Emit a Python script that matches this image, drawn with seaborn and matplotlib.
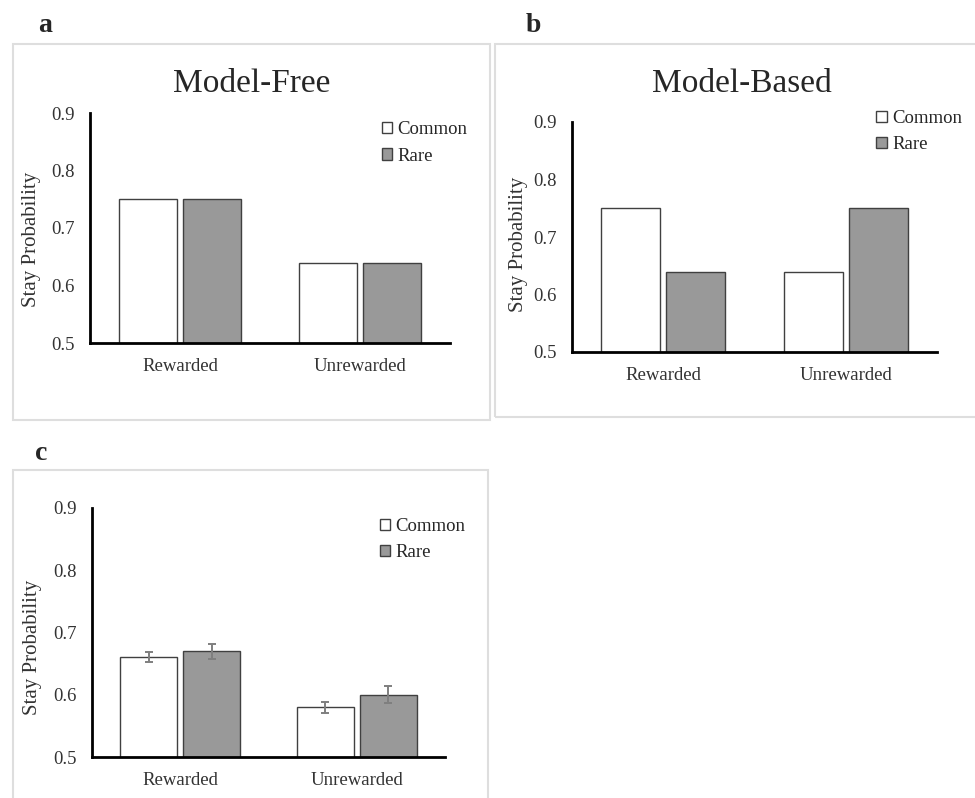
import matplotlib
matplotlib.use("Agg")
import matplotlib.pyplot as plt
from matplotlib.patches import Rectangle, Patch
import seaborn as sns
import pandas as pd

# values
conditions = ["Rewarded", "Unrewarded"]
transitions = ["Common", "Rare"]
mf_common = [0.75, 0.64]
mf_rare = [0.75, 0.64]
mb_common = [0.75, 0.64]
mb_rare = [0.64, 0.75]
data_common = [0.66, 0.58]
data_rare = [0.67, 0.60]
data_common_err = [0.008, 0.009]
data_rare_err = [0.012, 0.014]
yticks = [0.5, 0.6, 0.7, 0.8, 0.9]

W, H = 975, 798
sns.set_style("white")
plt.rcParams['font.family'] = ['Liberation Serif', 'DejaVu Serif']

fig = plt.figure(figsize=(W / 100, H / 100), dpi=100)


def box(x0, y0, x1, y1):
    # pixel coords (top-left origin) -> figure fraction
    return [x0 / W, 1 - y1 / H, (x1 - x0) / W, (y1 - y0) / H]


def make_df(common, rare):
    return pd.DataFrame({
        "condition": conditions * 2,
        "transition": ["Common"] * 2 + ["Rare"] * 2,
        "stay": common + rare,
    })


palette = {"Common": "white", "Rare": "#999999"}


def panel(rect, df, leg_anchor, ylab_xy):
    ax = fig.add_axes(box(*rect))
    sns.barplot(data=df, x="condition", y="stay", hue="transition",
                hue_order=transitions, order=conditions, palette=palette,
                edgecolor="#404040", linewidth=1, width=0.71, gap=0.09,
                errorbar=None, legend=False, ax=ax)
    ax.set_ylim(0.5, 0.9)
    ax.set_yticks(yticks)
    ax.set_xlim(-0.5, 1.5)
    sns.despine(ax=ax)
    for s in ["left", "bottom"]:
        ax.spines[s].set_linewidth(2)
        ax.spines[s].set_color("black")
        ax.spines[s].set_zorder(5)
    ax.tick_params(length=0, pad=11, labelsize=13.5, colors="#333333")
    ax.set_xlabel("")
    ax.set_ylabel("Stay Probability", fontsize=15, color="#333333")
    ax.yaxis.set_label_coords(*ylab_xy)
    handles = [Patch(facecolor=palette[t], edgecolor="#404040", linewidth=1)
               for t in transitions]
    ax.legend(handles, transitions, loc="upper right", bbox_to_anchor=leg_anchor,
              frameon=False, fontsize=13.5, handlelength=0.55, handleheight=0.55,
              handletextpad=0.3, labelspacing=0.5, borderaxespad=0)
    return ax


# panel frames
frame_kw = dict(fill=False, edgecolor="#dedede", linewidth=1.5)
for r in [box(13, 44, 490, 420), box(495, 44, 990, 417), box(13, 470, 488, 810)]:
    fig.add_artist(Rectangle((r[0], r[1]), r[2], r[3], transform=fig.transFigure, **frame_kw))

# a: model-free
panel((90, 113, 450, 343), make_df(mf_common, mf_rare), (1.07, 0.997), (-0.135, 0.45))
fig.text(252 / W, 1 - 92 / H, "Model-Free", ha="center", va="baseline", fontsize=24)

# b: model-based
panel((572, 122, 937, 352), make_df(mb_common, mb_rare), (1.09, 1.085), (-0.12, 0.47))
fig.text(742 / W, 1 - 92 / H, "Model-Based", ha="center", va="baseline", fontsize=24)

# c: data with error bars
ax_c = panel((92, 508, 445, 757), make_df(data_common, data_rare), (1.08, 0.99), (-0.142, 0.44))
for cont, errs in zip(ax_c.containers, [data_common_err, data_rare_err]):
    xs = [b.get_x() + b.get_width() / 2 for b in cont]
    ys = [b.get_height() for b in cont]
    ax_c.errorbar(xs, ys, yerr=errs, fmt="none", ecolor="#7f7f7f",
                  elinewidth=1.4, capsize=3.2, capthick=1.4, zorder=4)

# panel letters
for x, y, s in [(45, 32, "a"), (533, 32, "b"), (41, 460, "c")]:
    fig.text(x / W, 1 - y / H, s, ha="center", va="baseline",
             fontsize=20, fontweight="bold")

fig.savefig("out.png", dpi=100)
